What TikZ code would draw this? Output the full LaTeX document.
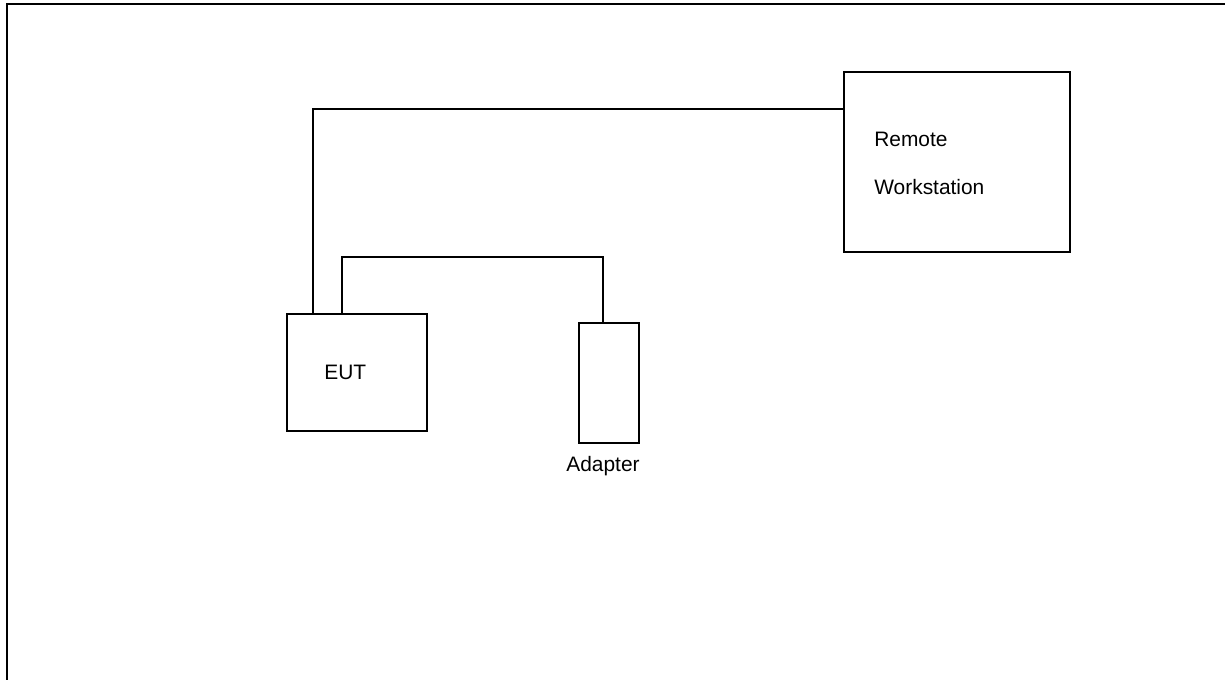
\documentclass[tikz,border=0pt]{standalone}
\usepackage{fontspec}
\setmainfont{Liberation Sans}
\usetikzlibrary{positioning}

\tikzset{
  unit/.style={draw, line width=0.85pt, inner sep=0pt},
  cable/.style={line width=0.85pt},
  lbl/.style={font=\fontsize{11.9}{14}\selectfont, inner sep=0pt},
}

\begin{document}
\begin{tikzpicture}[x=0.02cm, y=-0.02cm]
\useasboundingbox (0,0) rectangle (1225,680);

% page frame (only top and left edge in view)
\draw[line width=1.1pt] (7,680) -- (7,4) -- (1225,4);

% units
\node[unit, minimum width=2.8cm, minimum height=2.34cm] (eut) at (357,372.5) {};
\node[unit, minimum width=1.2cm, minimum height=2.4cm] (adapter) at (609,383) {};
\node[unit, minimum width=4.52cm, minimum height=3.6cm] (remote) at (957,162) {};

% labels
\node[lbl, anchor=base west] (eutlbl) at (324,379) {EUT};
\node[lbl, below=7pt of adapter.south, xshift=-0.12cm] (adaptlbl) {Adapter};
\node[lbl, anchor=base west] (remlbl) at (874,146) {Remote};
\node[lbl, anchor=base west] (wslbl) at (874,194) {Workstation};

% cables
\coordinate (lanport) at (313,314);
\coordinate (lantop) at (313,109);
\coordinate (dcport) at (342,314);
\coordinate (dctop) at (342,257);
\coordinate (dcplug) at (603,323);

\draw[cable] (lanport) -- (lantop) -- (remote.west |- lantop);
\draw[cable] (dcport) -- (dctop) -| (dcplug);
\end{tikzpicture}
\end{document}
